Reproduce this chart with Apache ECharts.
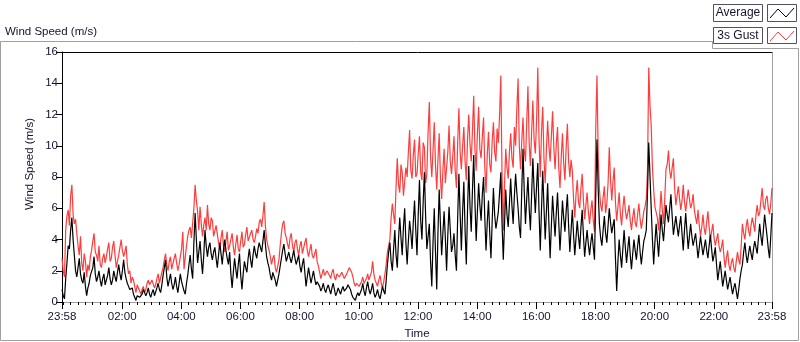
<!DOCTYPE html>
<html lang="en">
<head>
    <meta charset="UTF-8">
    <title>Wind Speed</title>
    <script src="https://cdn.jsdelivr.net/npm/echarts@6.0.0/dist/echarts.min.js"></script>
    <style>
        html, body { margin: 0; padding: 0; background: #fff; }
        #main { width: 800px; height: 342px; }
    </style>
</head>
<body>
<div id="main"></div>
<script>
    // minutes since 23:58, one reading every 2.5 min (one row = one hour)
    var stepMin = 2.5;
    var gustSpeed = [
        2.8, 2.0, 1.6, 4.6, 5.5, 5.9, 4.9, 6.8, 7.5, 5.6, 5.0, 5.3, 4.4, 3.6, 3.0, 4.2, 2.5, 2.0, 3.1, 2.6, 1.6, 2.4, 2.0, 2.9,
        3.3, 3.9, 4.4, 3.2, 3.0, 2.6, 3.6, 2.4, 2.2, 2.8, 3.1, 2.5, 2.9, 3.4, 3.8, 2.6, 2.8, 3.5, 3.9, 3.0, 2.2, 2.6, 3.0, 3.5,
        4.0, 3.3, 2.9, 3.2, 3.6, 2.4, 1.8, 2.0, 1.2, 1.6, 1.4, 1.0, 0.6, 1.1, 0.9, 0.7, 0.5, 0.8, 1.0, 0.6, 0.8, 1.2, 1.4, 1.1,
        1.0, 1.4, 1.3, 0.9, 1.1, 1.5, 1.8, 1.2, 1.3, 1.9, 2.2, 2.7, 3.1, 2.4, 2.0, 2.6, 2.9, 2.1, 2.2, 2.8, 3.1, 2.5, 2.0, 2.4,
        2.9, 3.4, 4.5, 2.1, 2.2, 3.6, 4.2, 4.6, 4.8, 4.1, 4.0, 6.0, 7.5, 6.5, 5.8, 4.6, 6.1, 5.0, 4.2, 4.9, 5.4, 4.6, 6.2, 5.0,
        4.6, 5.4, 5.2, 4.2, 4.1, 4.9, 4.8, 3.8, 3.4, 4.1, 4.6, 3.6, 3.2, 3.9, 4.5, 3.3, 3.6, 4.0, 4.4, 3.5, 3.0, 3.7, 4.3, 3.4,
        3.2, 3.9, 4.5, 3.5, 3.7, 4.3, 4.8, 3.9, 3.9, 4.4, 4.6, 4.0, 3.8, 4.2, 4.7, 4.4, 5.1, 5.3, 4.8, 5.5, 6.4, 4.9, 4.0, 3.6,
        3.3, 2.9, 2.4, 2.8, 3.0, 2.2, 1.9, 2.3, 2.7, 3.6, 4.4, 5.0, 5.2, 4.4, 4.1, 3.7, 3.4, 4.1, 4.4, 3.6, 3.2, 3.8, 4.0, 3.4,
        3.0, 3.6, 3.9, 3.1, 3.2, 3.8, 4.1, 3.3, 2.9, 3.3, 3.7, 3.0, 2.8, 3.1, 3.4, 2.6, 2.3, 1.9, 1.5, 1.8, 2.1, 1.7, 1.6, 2.0,
        2.0, 1.7, 1.5, 1.9, 2.1, 1.6, 1.4, 1.8, 1.9, 1.6, 1.5, 1.9, 2.0, 1.5, 1.6, 1.8, 2.0, 2.2, 2.3, 1.9, 1.6, 1.2, 1.0, 1.2,
        1.3, 1.0, 0.9, 1.3, 1.6, 1.2, 1.1, 1.5, 1.8, 1.4, 1.3, 1.9, 2.6, 1.8, 1.4, 1.2, 1.0, 1.4, 1.7, 1.2, 0.9, 1.3, 1.8, 2.4,
        3.2, 3.6, 4.0, 5.4, 6.3, 5.6, 5.0, 7.4, 9.2, 7.5, 7.0, 8.8, 8.3, 6.8, 6.9, 8.6, 8.0, 9.6, 11.0, 8.4, 7.9, 9.4, 10.4, 8.0,
        8.2, 9.5, 10.6, 8.3, 7.8, 10.2, 9.9, 7.6, 8.2, 10.9, 12.8, 9.3, 8.0, 9.7, 11.5, 8.8, 7.2, 9.1, 10.8, 8.0, 6.6, 8.4, 9.8, 7.6,
        7.5, 9.6, 11.3, 9.0, 8.2, 9.3, 10.6, 8.4, 7.3, 10.2, 12.4, 9.6, 8.5, 10.0, 11.2, 9.0, 7.8, 10.4, 12.0, 10.1, 9.0, 11.0, 13.2, 9.8,
        8.4, 10.8, 12.5, 9.8, 9.2, 10.6, 11.8, 8.6, 7.0, 9.4, 10.9, 8.8, 8.3, 10.3, 11.5, 9.6, 9.0, 11.1, 10.2, 12.0, 14.5, 8.0, 4.6, 7.5,
        9.8, 8.6, 7.9, 9.6, 10.8, 9.2, 8.6, 11.2, 10.0, 12.4, 14.3, 10.0, 8.5, 10.3, 11.8, 9.7, 9.0, 11.5, 13.8, 10.2, 8.7, 10.9, 12.9, 10.4,
        9.5, 11.6, 15.0, 10.4, 8.0, 10.9, 12.5, 9.2, 7.6, 9.8, 11.6, 10.0, 9.0, 10.6, 12.2, 9.9, 8.5, 10.1, 11.2, 8.6, 7.3, 9.2, 10.8, 8.9,
        7.8, 9.9, 11.4, 9.0, 8.0, 9.1, 8.4, 6.6, 5.4, 6.9, 7.8, 6.4, 6.0, 7.3, 8.2, 6.5, 5.3, 6.2, 7.0, 5.8, 5.0, 5.9, 6.5, 5.2,
        4.5, 11.0, 14.5, 9.4, 7.2, 6.2, 5.8, 6.7, 7.4, 5.7, 6.3, 7.6, 9.9, 7.8, 6.5, 7.7, 8.6, 6.4, 5.2, 6.1, 7.0, 5.6, 4.9, 6.0,
        6.8, 5.9, 5.3, 5.7, 6.2, 5.2, 4.6, 5.4, 6.0, 5.1, 4.8, 5.6, 6.3, 5.3, 4.7, 5.2, 5.8, 6.1, 6.6, 8.4, 15.0, 12.6, 11.3, 8.6,
        7.2, 6.1, 6.2, 5.4, 4.6, 5.8, 7.1, 5.9, 5.0, 6.6, 8.5, 8.8, 9.7, 8.4, 7.9, 8.6, 9.2, 7.3, 6.2, 6.8, 7.4, 6.6, 5.9, 6.5,
        7.5, 6.4, 5.8, 6.5, 7.2, 6.6, 6.0, 6.3, 6.9, 5.9, 5.4, 5.0, 5.9, 4.9, 4.2, 4.8, 5.6, 4.7, 4.3, 5.1, 5.8, 4.8, 4.0, 4.5,
        5.0, 4.1, 3.6, 4.0, 4.4, 3.6, 3.2, 3.5, 4.0, 2.9, 2.2, 2.8, 3.3, 2.4, 2.0, 2.5, 2.8, 2.2, 1.9, 2.6, 3.2, 2.7, 2.4, 3.6,
        5.0, 4.4, 4.0, 4.8, 5.3, 4.6, 4.2, 4.9, 5.4, 5.0, 4.5, 5.6, 6.2, 5.5, 5.7, 6.5, 7.3, 6.2, 5.9, 6.6, 6.8, 6.0, 5.6, 6.3,
        7.3
    ];
    var avgSpeed = [
        0.8, 0.4, 0.2, 1.5, 2.5, 3.6, 3.4, 4.6, 5.4, 4.0, 3.0, 2.0, 1.6, 2.2, 2.8, 1.8, 1.4, 1.2, 1.9, 1.0, 0.4, 0.9, 1.2, 1.7,
        1.6, 2.2, 2.9, 1.8, 1.3, 1.6, 2.0, 1.4, 1.0, 1.5, 1.8, 1.1, 1.2, 1.7, 2.2, 1.5, 1.1, 1.4, 2.0, 1.6, 1.3, 1.9, 2.4, 1.8,
        1.4, 2.0, 2.7, 1.9, 1.5, 1.2, 1.0, 0.8, 0.7, 0.9, 0.5, 0.3, 0.1, 0.4, 0.5, 0.3, 0.2, 0.5, 0.8, 0.6, 0.4, 0.6, 0.9, 0.5,
        0.3, 0.6, 0.8, 0.4, 0.5, 0.9, 1.2, 0.8, 0.6, 1.1, 1.7, 2.2, 2.7, 1.6, 1.0, 1.4, 1.8, 1.2, 0.8, 1.1, 1.6, 1.0, 0.6, 1.2,
        1.8, 1.3, 1.0, 0.7, 0.5, 1.2, 1.7, 2.4, 3.0, 2.1, 1.5, 3.8, 5.7, 4.0, 2.5, 3.2, 3.9, 2.7, 1.8, 3.0, 4.6, 3.6, 2.9, 3.5,
        3.8, 3.1, 2.7, 3.2, 3.5, 2.8, 2.2, 3.0, 3.8, 3.1, 2.4, 3.3, 4.0, 3.3, 2.8, 2.4, 3.2, 1.8, 0.9, 1.9, 2.8, 2.1, 1.5, 2.4,
        3.1, 1.7, 0.8, 1.8, 2.6, 2.2, 1.9, 2.8, 3.4, 2.7, 2.2, 3.0, 3.6, 3.1, 2.8, 3.4, 3.8, 3.5, 3.2, 3.9, 4.6, 3.7, 2.9, 2.5,
        2.2, 1.7, 1.4, 1.9, 2.0, 1.4, 1.0, 1.4, 1.8, 2.3, 2.8, 3.3, 3.7, 3.1, 2.6, 2.9, 3.2, 2.8, 2.5, 2.9, 3.3, 2.8, 2.4, 2.7,
        3.0, 2.3, 1.9, 2.4, 2.8, 1.9, 1.0, 1.6, 2.2, 1.7, 1.2, 1.6, 2.0, 1.5, 1.1, 1.3, 1.4, 1.0, 0.7, 0.9, 1.2, 0.8, 0.6, 0.9,
        1.1, 0.8, 0.5, 0.9, 1.2, 0.8, 0.4, 0.6, 0.9, 0.7, 0.5, 0.8, 1.0, 0.7, 0.6, 0.9, 1.1, 1.0, 0.8, 0.5, 0.3, 0.2, 0.1, 0.4,
        0.6, 0.4, 0.3, 0.8, 1.2, 0.7, 0.4, 0.9, 1.3, 0.8, 0.5, 0.8, 1.2, 0.6, 0.3, 0.5, 0.8, 0.4, 0.2, 0.6, 1.0, 0.7, 0.5, 1.4,
        2.4, 3.2, 3.8, 2.6, 2.0, 3.4, 4.6, 3.0, 2.2, 4.0, 5.4, 4.1, 3.0, 4.8, 6.0, 3.8, 2.4, 3.9, 5.2, 4.4, 3.4, 5.1, 6.5, 4.6,
        3.0, 5.6, 7.8, 5.2, 4.0, 6.4, 8.3, 5.5, 3.4, 4.2, 5.0, 2.6, 1.0, 3.8, 6.0, 3.2, 0.8, 4.4, 7.2, 5.0, 3.0, 4.4, 5.8, 4.1,
        2.0, 4.3, 6.1, 4.6, 3.2, 3.6, 4.4, 3.0, 2.0, 5.4, 8.2, 5.6, 3.3, 5.8, 7.7, 4.6, 2.4, 5.9, 8.7, 6.1, 4.5, 7.2, 9.4, 6.4,
        3.9, 5.8, 7.6, 6.2, 5.2, 6.9, 8.0, 5.4, 3.3, 5.1, 6.5, 4.4, 2.8, 5.2, 7.3, 5.6, 4.7, 5.2, 5.8, 7.0, 8.3, 5.0, 2.7, 5.0,
        7.2, 5.6, 4.8, 6.3, 7.9, 6.2, 5.0, 6.8, 8.2, 7.0, 6.0, 4.8, 4.1, 7.2, 9.8, 7.1, 5.0, 6.6, 8.0, 6.0, 4.6, 6.9, 9.2, 7.2,
        5.7, 7.4, 8.9, 5.8, 3.3, 5.9, 8.4, 6.1, 4.0, 5.8, 7.6, 5.0, 2.8, 4.9, 6.8, 5.4, 4.2, 5.7, 7.0, 5.1, 3.3, 4.8, 6.5, 5.4,
        4.5, 5.8, 6.9, 4.9, 3.2, 4.6, 5.9, 4.3, 3.0, 4.1, 5.2, 4.2, 3.4, 4.8, 5.9, 4.3, 2.9, 3.8, 4.6, 3.7, 3.0, 3.8, 4.4, 3.5,
        2.7, 6.8, 10.4, 7.2, 5.0, 4.1, 3.6, 4.6, 5.5, 4.4, 3.8, 4.9, 6.0, 5.1, 4.4, 4.9, 5.3, 2.8, 0.7, 2.6, 4.0, 3.0, 2.2, 3.4,
        4.6, 3.5, 2.5, 3.4, 4.2, 3.0, 2.1, 3.1, 4.0, 3.3, 2.7, 3.6, 4.3, 3.2, 2.4, 3.2, 3.9, 4.2, 4.6, 7.0, 10.2, 8.1, 6.0, 4.0,
        2.4, 3.8, 5.0, 3.9, 2.9, 4.3, 5.6, 4.6, 3.9, 5.0, 6.2, 5.6, 5.1, 6.0, 6.9, 5.5, 4.3, 4.9, 5.5, 4.8, 4.2, 4.9, 5.5, 4.4,
        3.3, 4.6, 5.7, 4.5, 3.4, 4.2, 5.0, 4.2, 3.6, 4.0, 4.4, 3.6, 2.8, 3.5, 4.2, 3.6, 3.0, 3.5, 4.0, 3.3, 2.8, 3.6, 4.3, 3.4,
        2.6, 3.0, 3.5, 2.4, 1.4, 2.0, 2.6, 1.8, 1.0, 1.5, 2.0, 1.4, 0.8, 1.2, 1.6, 1.0, 0.5, 0.9, 1.2, 0.7, 0.2, 0.8, 1.5, 2.0,
        2.4, 3.2, 3.8, 3.0, 2.5, 3.1, 3.6, 3.1, 2.7, 3.4, 3.9, 3.5, 3.1, 4.1, 5.0, 4.2, 3.6, 4.6, 5.6, 4.9, 4.2, 3.4, 2.8, 4.2,
        5.7
    ];
    // x tick positions (minutes since 23:58) and their labels
    var tickMinutes = [0, 122, 242, 362, 482, 602, 722, 842, 962, 1082, 1202, 1322, 1440];
    var tickLabels = ['23:58', '02:00', '04:00', '06:00', '08:00', '10:00', '12:00',
        '14:00', '16:00', '18:00', '20:00', '22:00', '23:58'];

    var font = 'Liberation Sans, Arial, sans-serif';
    var textColor = '#141430';

    function toPairs(arr) {
        var out = [];
        for (var i = 0; i < arr.length; i++) {
            out.push([i * stepMin, arr[i]]);
        }
        return out;
    }

    // minor ticks every 15 min on the clock
    var minorTicks = [];
    for (var m = 2; m < 1440; m += 15) {
        if (tickMinutes.indexOf(m) < 0) minorTicks.push(m);
    }

    var myChart = echarts.init(document.getElementById('main'), null, {renderer: 'canvas'});
    var option = {
        animation: false,
        backgroundColor: '#fff',
        grid: {left: 62, top: 52, right: 28, bottom: 40, show: false},
        xAxis: [
            {
                type: 'value', min: 0, max: 1440,
                axisLine: {show: true, lineStyle: {color: '#a0a0a0', width: 1}},
                axisTick: {show: true, customValues: tickMinutes, length: 7, lineStyle: {color: '#000'}},
                axisLabel: {
                    customValues: tickMinutes,
                    margin: 9,
                    fontFamily: font, fontSize: 11.5, color: textColor,
                    formatter: function (v) {
                        var k = tickMinutes.indexOf(Math.round(v));
                        return k >= 0 ? tickLabels[k] : '';
                    }
                },
                splitLine: {show: false}
            },
            {
                type: 'value', min: 0, max: 1440, position: 'bottom',
                axisLine: {show: false},
                axisTick: {show: true, customValues: minorTicks, length: 3, lineStyle: {color: '#000'}},
                axisLabel: {show: false},
                splitLine: {show: false}
            }
        ],
        yAxis: {
            type: 'value', min: 0, max: 16, interval: 2,
            axisLine: {show: true, lineStyle: {color: '#000', width: 1}},
            axisTick: {show: true, length: 6, lineStyle: {color: '#000'}},
            axisLabel: {margin: 4, fontFamily: font, fontSize: 11.5, color: textColor},
            splitLine: {show: false}
        },
        series: [
            {
                name: '3s Gust', type: 'line', data: toPairs(gustSpeed),
                showSymbol: false, symbol: 'none',
                lineStyle: {color: '#ff3c3c', width: 1.2}
            },
            {
                name: 'Average', type: 'line', data: toPairs(avgSpeed),
                showSymbol: false, symbol: 'none',
                lineStyle: {color: '#000', width: 1.2}
            }
        ],
        graphic: [
            // outer frame
            {type: 'polyline', silent: true, shape: {points: [[0.5, 41.5], [712.5, 41.5], [712.5, 48.5], [798.5, 48.5], [798.5, 340.5], [0.5, 340.5], [0.5, 41.5]]},
                style: {stroke: '#a0a0a0', fill: null, lineWidth: 1}},
            // plot border: dark top/left, grey right
            {type: 'polyline', silent: true, shape: {points: [[62.5, 302], [62.5, 52.5], [772.5, 52.5]]},
                style: {stroke: '#000', fill: null, lineWidth: 1}},
            {type: 'line', silent: true, shape: {x1: 772.5, y1: 53, x2: 772.5, y2: 302.5},
                style: {stroke: '#a0a0a0', lineWidth: 1}},
            // titles
            {type: 'text', left: 5, top: 26, silent: true,
                style: {text: 'Wind Speed (m/s)', font: '11.5px ' + font, fill: textColor}},
            {type: 'text', x: 30, y: 164, rotation: Math.PI / 2, silent: true,
                style: {text: 'Wind Speed (m/s)', font: '11.5px ' + font, fill: textColor, align: 'center', verticalAlign: 'middle'}},
            {type: 'text', x: 417, y: 334, silent: true,
                style: {text: 'Time', font: '11.5px ' + font, fill: textColor, align: 'center', verticalAlign: 'middle'}},
            // legend
            {type: 'rect', silent: true, shape: {x: 713.5, y: 4.5, width: 49, height: 17},
                style: {stroke: '#505068', fill: '#fff', lineWidth: 1}},
            {type: 'text', x: 738, y: 13, silent: true,
                style: {text: 'Average', font: '12px ' + font, fill: textColor, align: 'center', verticalAlign: 'middle'}},
            {type: 'rect', silent: true, shape: {x: 767.5, y: 4.5, width: 29, height: 17},
                style: {stroke: '#505068', fill: '#fff', lineWidth: 1}},
            {type: 'polyline', silent: true, shape: {points: [[770, 18], [778, 9], [786, 17], [794, 8]]},
                style: {stroke: '#000', fill: null, lineWidth: 1}},
            {type: 'rect', silent: true, shape: {x: 713.5, y: 27.5, width: 49, height: 16},
                style: {stroke: '#505068', fill: '#fff', lineWidth: 1}},
            {type: 'text', x: 738, y: 36, silent: true,
                style: {text: '3s Gust', font: '12px ' + font, fill: textColor, align: 'center', verticalAlign: 'middle'}},
            {type: 'rect', silent: true, shape: {x: 767.5, y: 27.5, width: 29, height: 16},
                style: {stroke: '#505068', fill: '#fff', lineWidth: 1}},
            {type: 'polyline', silent: true, shape: {points: [[770, 41], [778, 32], [786, 40], [794, 31]]},
                style: {stroke: '#ff3c3c', fill: null, lineWidth: 1}}
        ]
    };
    myChart.setOption(option);
</script>
</body>
</html>
